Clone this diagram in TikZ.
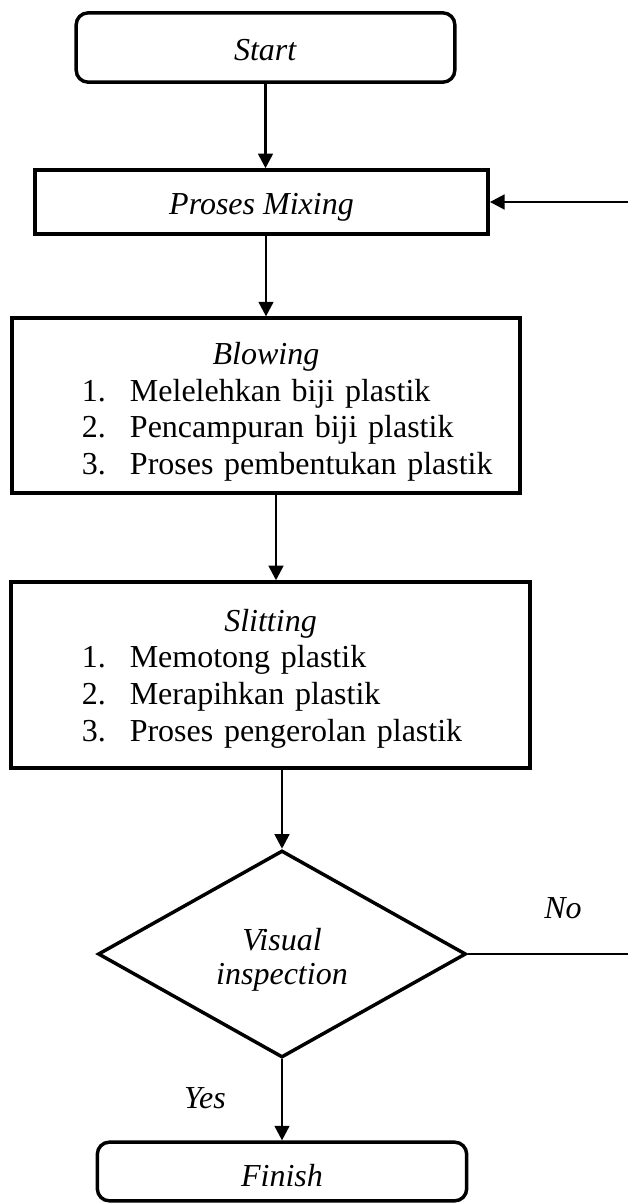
\documentclass[tikz,border=0pt]{standalone}
\usepackage{fontspec}
\setmainfont{Liberation Serif}
\usetikzlibrary{arrows.meta,shapes.geometric}

\begin{document}
\begin{tikzpicture}[x=0.75pt,y=0.75pt,yscale=-1,xscale=1,
  every node/.style={font=\fontsize{24}{27.6}\selectfont},
  terminal/.style={draw,line width=2.6pt,rounded corners=9pt,inner sep=0pt},
  procbox/.style={draw,line width=2.6pt,inner sep=0pt},
  decision/.style={draw,diamond,line width=2.6pt,inner sep=0pt,align=center},
  flow/.style={line width=2pt,-{Triangle[length=11pt,width=11pt]}}]
\useasboundingbox (0,0) rectangle (628,1203);

%Shape: Rounded Rect
\node[terminal,minimum width=284pt,minimum height=52pt,text height=19pt,text depth=0pt] (start) at (265.5,47.5) {\textit{Start}};
%Shape: Rectangle
\node[procbox,minimum width=340pt,minimum height=48pt,text height=19pt,text depth=0pt] (mix) at (261.5,202) {\textit{Proses Mixing}};
%Shape: Rectangle
\node[procbox,text width=381pt,minimum height=131pt,align=left] (blow) at (266,405.5) {\rule{0pt}{26pt}\makebox[\hsize]{\itshape Blowing}\\
\hspace*{52.5pt}\makebox[36pt][l]{1.}Melelehkan biji plastik\\
\hspace*{52.5pt}\makebox[36pt][l]{2.}Pencampuran biji plastik\\
\hspace*{52.5pt}\makebox[36pt][l]{3.}Proses pembentukan plastik};
%Shape: Rectangle
\node[procbox,text width=389pt,minimum height=139.5pt,align=left] (slit) at (270.5,675) {\rule{0pt}{22pt}\makebox[\hsize]{\itshape Slitting}\\
\hspace*{53pt}\makebox[36pt][l]{1.}Memotong plastik\\
\hspace*{53pt}\makebox[36pt][l]{2.}Merapihkan plastik\\
\hspace*{53pt}\makebox[36pt][l]{3.}Proses pengerolan plastik};
%Shape: Diamond
\node[decision,minimum width=276pt,minimum height=150pt,font=\fontsize{24}{25.5}\selectfont] (dec) at (282,954) {\rule{0pt}{26pt}\textit{Visual}\\\textit{inspection}};
%Shape: Rounded Rect
\node[terminal,minimum width=277pt,minimum height=44pt,text height=23pt,text depth=0pt] (fin) at (282,1171.5) {\textit{Finish}};

% Text Node
\node (nolab) at (563,908) {\textit{No}};
% Text Node
\node (yeslab) at (205,1098) {\textit{Yes}};

\coordinate (noend) at (628,954);
\coordinate (loopin) at (628,202);

%Straight Lines
\draw[flow] (start.south) -- (start.south |- mix.north);
\draw[flow] (blow.north |- mix.south) -- (blow.north);
\draw[flow] ([xshift=7.5pt]blow.south) -- ([xshift=7.5pt]blow.south |- slit.north);
\draw[flow] (dec.north |- slit.south) -- (dec.north);
\draw[flow] (dec.south) -- (fin.north);
\draw[line width=2pt] (dec.east) -- (noend);
\draw[flow] (loopin) -- (mix.east);

\end{tikzpicture}
\end{document}
